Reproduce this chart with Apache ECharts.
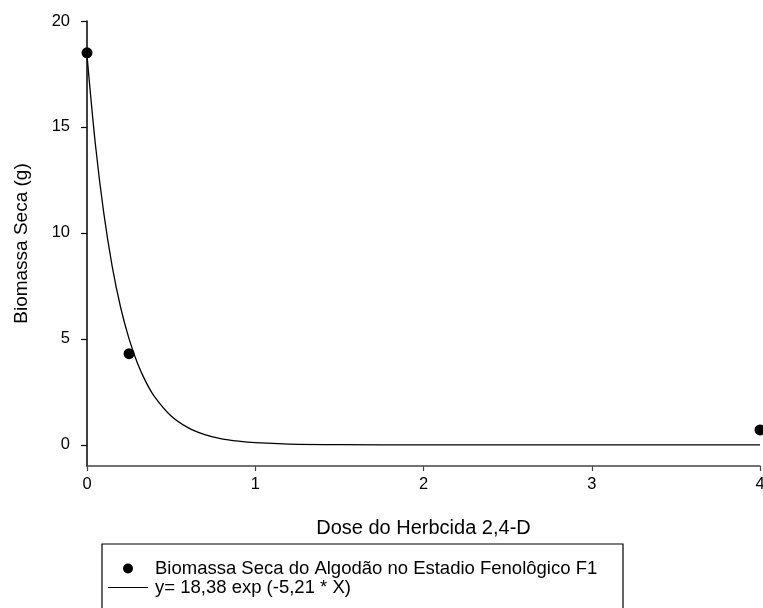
<!DOCTYPE html>
<html>
<head>
<meta charset="UTF-8">
<script src="https://cdn.jsdelivr.net/npm/echarts@6/dist/echarts.min.js"></script>
<title></title>
<style>
  html, body { margin: 0; padding: 0; background: #fff; }
  #main { width: 763px; height: 608px; }
</style>
</head>
<body>
<div id="main"></div>
<script type="text/javascript">
// observed points
var doseObs = [0, 0.25, 4];
var biomassObs = [18.5, 4.3, 0.7];

// fitted curve, values
var doseFit = [0, 0.05, 0.1, 0.15, 0.2, 0.25, 0.3, 0.35, 0.4, 0.5, 0.6, 0.7, 0.8, 0.9, 1.0, 1.2, 1.5, 2, 3, 4];
var biomassFit = [18.38, 14.17, 10.92, 8.41, 6.48, 5.0, 3.85, 2.97, 2.29, 1.36, 0.81, 0.48, 0.28, 0.17, 0.1, 0.035, 0.007, 0.0005, 0, 0];

var yTicks = [0, 5, 10, 15, 20];
var xTicks = [0, 1, 2, 3, 4];

var obsName = 'Biomassa Seca do Algodão no Estadio Fenolôgico F1';
var fitName = 'y= 18,38 exp (-5,21 * X)';

var obsData = [];
for (var i = 0; i < doseObs.length; i++) obsData.push([doseObs[i], biomassObs[i]]);
var fitData = [];
for (var j = 0; j < doseFit.length; j++) fitData.push([doseFit[j], biomassFit[j]]);

var myChart = echarts.init(document.getElementById('main'));
var font = 'Liberation Sans, Arial, sans-serif';

var option = {
  animation: false,
  grid: { left: 87, right: 3, top: 21, bottom: 142, containLabel: false, outerBoundsMode: 'none' },
  xAxis: {
    type: 'value',
    min: 0,
    max: 4,
    name: 'Dose do Herbcida 2,4-D',
    nameLocation: 'middle',
    nameGap: 52,
    nameTextStyle: { color: '#000', fontSize: 20, fontFamily: font },
    axisLine: { onZero: false, lineStyle: { color: '#444', width: 1.5 } },
    axisTick: { length: 5, lineStyle: { color: '#444', width: 1.2 }, customValues: xTicks },
    axisLabel: { color: '#000', fontSize: 16.5, fontFamily: font, margin: 10, customValues: xTicks },
    splitLine: { show: false }
  },
  yAxis: {
    type: 'value',
    min: -1,
    max: 20,
    name: 'Biomassa Seca (g)',
    nameLocation: 'middle',
    nameGap: 56,
    nameTextStyle: { color: '#000', fontSize: 19, fontFamily: font },
    axisLine: { show: true, lineStyle: { color: '#000', width: 1.5 } },
    axisTick: { show: true, length: 6, lineStyle: { color: '#000', width: 1.2 }, customValues: yTicks },
    axisLabel: { color: '#000', fontSize: 16.5, fontFamily: font, margin: 17, customValues: yTicks },
    splitLine: { show: false }
  },
  legend: {
    orient: 'vertical',
    left: 103,
    top: 554,
    itemWidth: 40,
    itemHeight: 10,
    itemGap: 0,
    textStyle: { color: '#000', fontSize: 18.5, fontFamily: font, lineHeight: 16, padding: [0, 0, 0, 2] },
    data: [
      { name: obsName, icon: 'circle' },
      { name: fitName, icon: 'path://M0,0 L40,0 L40,1 L0,1 Z' }
    ]
  },
  graphic: [{
    type: 'rect',
    shape: { x: 102, y: 544, width: 521, height: 100 },
    style: { fill: 'none', stroke: '#000', lineWidth: 1.2 },
    z: 0
  }],
  series: [{
    name: obsName,
    type: 'scatter',
    symbol: 'circle',
    symbolSize: 11,
    clip: false,
    itemStyle: { color: '#000', opacity: 1 },
    data: obsData,
    z: 3
  }, {
    name: fitName,
    type: 'line',
    symbol: 'none',
    smooth: 0.3,
    lineStyle: { color: '#000', width: 1.3 },
    itemStyle: { color: '#000' },
    data: fitData,
    z: 2
  }]
};

myChart.setOption(option);
</script>
</body>
</html>
